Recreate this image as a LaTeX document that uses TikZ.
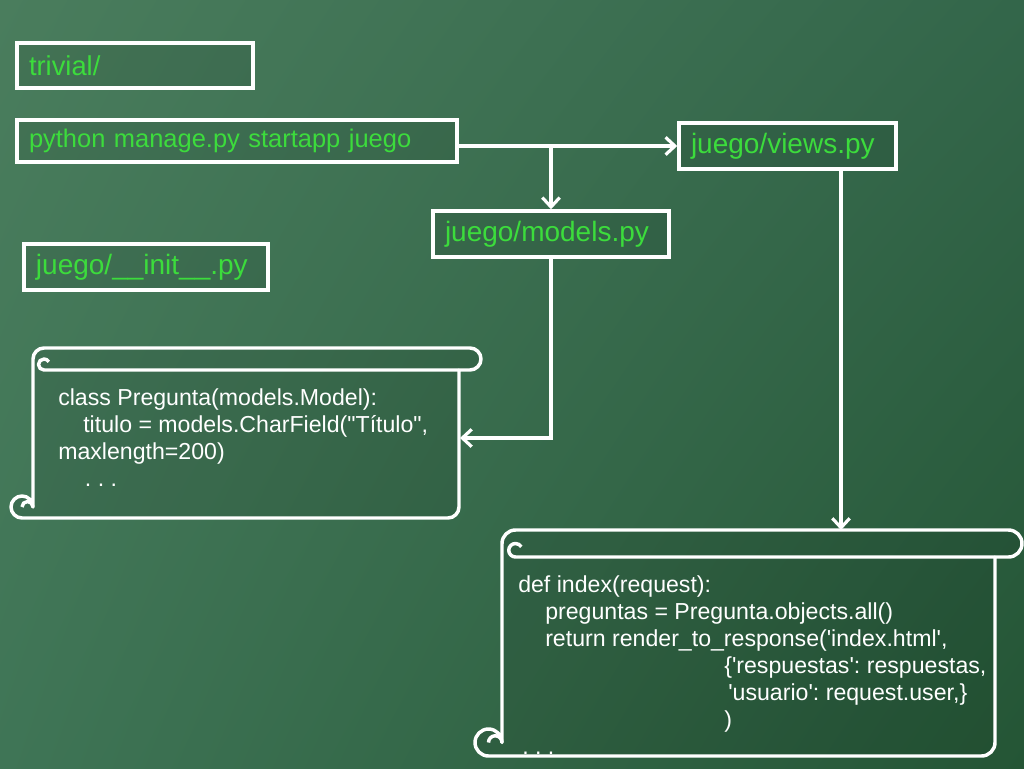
\documentclass[tikz,border=0pt]{standalone}
\usepackage{fontspec}
\setmainfont{Liberation Sans}[Ligatures=TeXOff]
\usetikzlibrary{arrows.meta,shadings}
\frenchspacing

\definecolor{bgul}{HTML}{4A7D5D}
\definecolor{bgur}{HTML}{33664A}
\definecolor{bgll}{HTML}{3F7556}
\definecolor{bglr}{HTML}{245535}
\definecolor{labelgreen}{HTML}{3CDC3C}

\tikzset{
  filebox/.style={draw=white, line width=2.6pt, fill=black, fill opacity=0.08, text opacity=1,
    text=labelgreen, align=left, inner xsep=9pt, inner ysep=0pt},
  codetext/.style={text=white, align=left, inner sep=0pt, font=\fontsize{17.35}{20.25}\selectfont},
  link/.style={draw=white, line width=2.4pt, -{Straight Barb[length=7pt,width=13pt]}},
  scrollline/.style={draw=white, line width=2.6pt, line join=round, fill=black, fill opacity=0.08}
}

% scroll outline: left, top, right, bottom, roll height
\newcommand\scrollshape[5]{%
  \pgfmathsetmacro\scrh{#5/2}
  \draw[scrollline] (#1+#5,#4-\scrh) -- (#1+#5,#2+\scrh) arc[start angle=180,end angle=270,radius=\scrh]
    -- (#3-\scrh,#2) arc[start angle=270,end angle=450,radius=\scrh]
    -- (#3-#5,#2+#5) -- (#3-#5,#4-\scrh) arc[start angle=0,end angle=90,radius=\scrh]
    -- (#1+\scrh,#4) arc[start angle=90,end angle=360,radius=\scrh] -- cycle;
  \draw[scrollline, fill=none] (#3-#5,#2+#5) -- (#1+#5+\scrh,#2+#5) arc[start angle=90,end angle=330,radius=\scrh/2];
  \draw[scrollline, fill=none] (#1+#5,#4-\scrh) arc[start angle=0,end angle=-180,radius=\scrh/2];
}

\begin{document}
\begin{tikzpicture}[x=0.75pt,y=-0.75pt]
  \shade[upper left=bgul, upper right=bgur, lower left=bgll, lower right=bglr] (0,0) rectangle (1024,768);
  \useasboundingbox (0,0) rectangle (1024,768);

  % boxes
  \node[filebox, text width=159pt, minimum height=33.75pt, font=\fontsize{20.5}{24}\selectfont] (trivial) at (135,65.5) {trivial/};
  \node[filebox, text width=312pt, minimum height=31.5pt, font=\fontsize{19.1}{23}\selectfont] (startapp) at (237,141) {python manage.py startapp juego};
  \node[filebox, text width=144.75pt, minimum height=34.5pt, font=\fontsize{21}{25}\selectfont] (views) at (787.5,146) {juego/views.py};
  \node[filebox, text width=159pt, minimum height=34.5pt, font=\fontsize{21}{25}\selectfont] (models) at (551,234) {juego/models.py};
  \node[filebox, text width=165pt, minimum height=34.5pt, font=\fontsize{21}{25}\selectfont] (init) at (146,267) {juego/\_\_init\_\_.py};

  % scrolls
  \scrollshape{11}{348}{481}{518}{22}
  \scrollshape{475}{530}{1022}{756}{27}
  \coordinate (modelsin) at (460,438);
  \coordinate (viewsin) at (841,530);

  \node[codetext, anchor=base west] (modelscode) at (58,486) {class Pregunta(models.Model):\\
    \hspace*{18.75pt}titulo = models.CharField("Título",\\
    maxlength=200)\\
    \hspace*{20pt}. . .};
  \node[codetext, anchor=base west] (viewscode) at (518,754) {def index(request):\\
    \hspace*{20.25pt}preguntas = Pregunta.objects.all()\\
    \hspace*{20.25pt}return render\_to\_response('index.html',\\
    \hspace*{154.5pt}\{'respuestas': respuestas,\\
    \hspace*{157.5pt}'usuario': request.user,\}\\
    \hspace*{154.5pt})\\
    \hspace*{3pt}. . .};

  % connectors
  \draw[link] (startapp.east |- views.west) -- (views.west);
  \draw[link] (models.north |- views.west) -- (models.north);
  \draw[link] (models.south) |- (modelsin);
  \draw[link] (views.south -| viewsin) -- (viewsin);
\end{tikzpicture}
\end{document}
